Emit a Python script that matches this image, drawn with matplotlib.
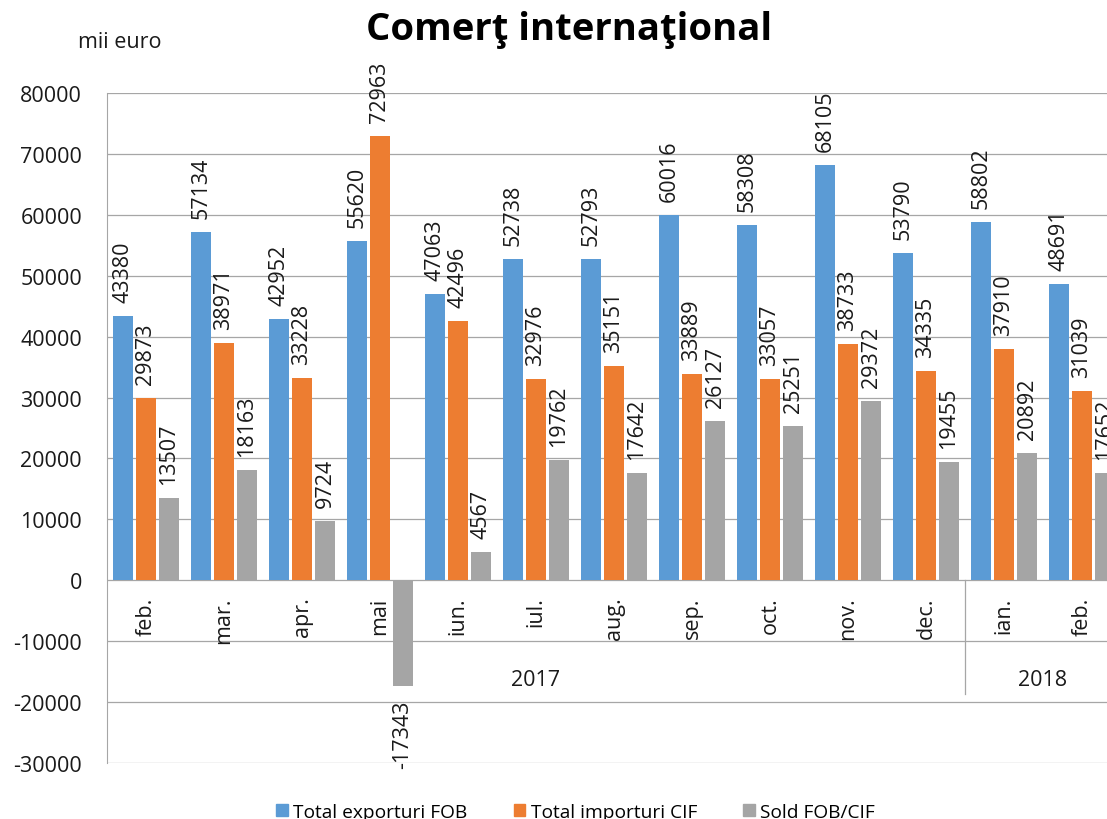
import matplotlib
matplotlib.use("Agg")
import matplotlib.pyplot as plt
from matplotlib.patches import Patch

plt.rcParams['font.family'] = ['Open Sans', 'DejaVu Sans']
plt.rcParams['axes.unicode_minus'] = False

months = ["feb.", "mar.", "apr.", "mai", "iun.", "iul.", "aug.", "sep.", "oct.",
          "nov.", "dec.", "ian.", "feb."]
years = [("2017", 0, 10), ("2018", 11, 12)]
exports = [43380, 57134, 42952, 55620, 47063, 52738, 52793, 60016, 58308, 68105, 53790, 58802, 48691]
imports = [29873, 38971, 33228, 72963, 42496, 32976, 35151, 33889, 33057, 38733, 34335, 37910, 31039]
sold = [13507, 18163, 9724, -17343, 4567, 19762, 17642, 26127, 25251, 29372, 19455, 20892, 17652]
series_names = ["Total exporturi FOB", "Total importuri CIF", "Sold FOB/CIF"]
colors = ["#5B9BD5", "#ED7D31", "#A5A5A5"]

W, H = 1107, 820
fig = plt.figure(figsize=(W / 100, H / 100), dpi=100)
ax = fig.add_axes([107 / W, 1 - 764 / H, 1014 / W, 670 / H])

ax.set_xlim(-0.5, len(months) - 0.5)
ax.set_ylim(-30000, 80000)
yticks = list(range(-30000, 80001, 10000))
ax.set_yticks(yticks)
for t in yticks:
    ax.axhline(t, color="#a6a6a6", lw=0.9, zorder=1)

offsets = [-0.295, 0.0, 0.295]
bw = 0.245
for k, vals in enumerate([exports, imports, sold]):
    xs = [i + offsets[k] for i in range(len(vals))]
    ax.bar(xs, vals, width=bw, color=colors[k], zorder=3)
    for x, v in zip(xs, vals):
        ax.annotate(str(v), xy=(x, v), xytext=(0, 14 if v >= 0 else -14),
                    textcoords="offset pixels", rotation=90, ha="center",
                    va="bottom" if v >= 0 else "top", fontsize=15.5,
                    color="#1a1a1a", annotation_clip=False)

for i, m in enumerate(months):
    ax.annotate(m, xy=(i, 0), xytext=(0, -16), textcoords="offset pixels",
                rotation=90, ha="center", va="top", fontsize=15.5, color="#1a1a1a")

for label, a, b in years:
    ax.text((a + b) / 2, -16300, label, ha="center", va="center", fontsize=15.5, color="#1a1a1a")
ax.plot([10.5, 10.5], [0, -18700], color="#a6a6a6", lw=0.9, zorder=2)

for s in ["top", "right", "bottom"]:
    ax.spines[s].set_visible(False)
ax.spines["left"].set_color("#a6a6a6")
ax.set_xticks([])
ax.tick_params(axis="y", length=0, pad=18, labelsize=15.5, labelcolor="#1a1a1a")

fig.text(569 / W, 1 - 30 / H, "Comerţ internaţional", ha="center", va="center",
         fontsize=27.5, fontweight="bold", color="black")
fig.text(78 / W, 1 - 42 / H, "mii euro", ha="left", va="center", fontsize=15.5, color="#1a1a1a")

handles = [Patch(color=c, label=n) for c, n in zip(colors, series_names)]
fig.legend(handles=handles, loc="center", bbox_to_anchor=(0.52, 1 - 813 / H), ncol=3,
           frameon=False, fontsize=13.8, handlelength=0.6, handleheight=0.6,
           handletextpad=0.3, columnspacing=2.4)

fig.savefig("out.png", dpi=100)
